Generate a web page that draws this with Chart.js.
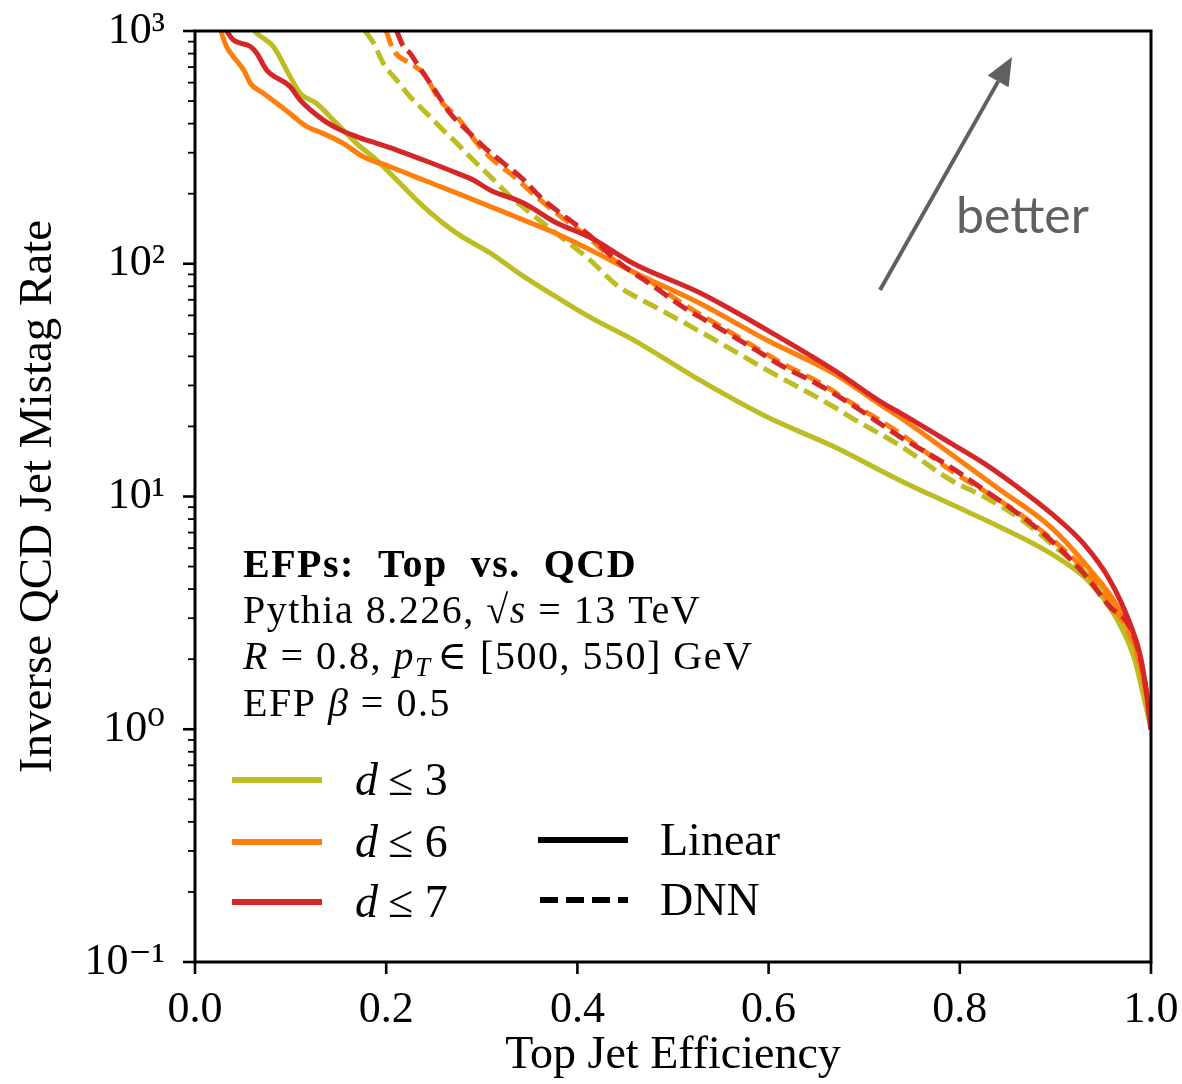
<!DOCTYPE html>
<html>
<head>
<meta charset="utf-8">
<script src="https://cdn.jsdelivr.net/npm/chart.js@4.4.1/dist/chart.umd.min.js"></script>
<style>
  html, body { margin: 0; padding: 0; background: #ffffff; }
  #wrap { width: 1182px; height: 1084px; }
</style>
</head>
<body>
<div id="wrap"><canvas id="c" width="1182" height="1084"></canvas></div>
<script>
// ---------------- DATA ----------------
const xTickValues = [0.0, 0.2, 0.4, 0.6, 0.8, 1.0];
const xTickLabels = ["0.0", "0.2", "0.4", "0.6", "0.8", "1.0"];
const yTickValues = [0.1, 1, 10, 100, 1000];
const yTickLabels = ["10\u207B\u00B9", "10\u2070", "10\u00B9", "10\u00B2", "10\u00B3"];

// d <= 3, Linear
const d3LinX = [0.062, 0.0646, 0.082, 0.0994, 0.110, 0.127, 0.148, 0.169, 0.190, 0.211, 0.239, 0.274, 0.309, 0.344, 0.378, 0.413, 0.459, 0.528, 0.598, 0.668, 0.738, 0.790, 0.842, 0.895, 0.937, 0.965, 0.982, 0.994, 1.0];
const d3LinY = [1000, 976, 857, 637, 540, 489, 401, 329, 279, 229, 176, 135, 111, 88, 72, 59, 47, 31.6, 22, 16.4, 11.7, 9.3, 7.4, 5.7, 4.24, 2.94, 2.05, 1.29, 1.0];

// d <= 6, Linear
const d6LinX = [0.027, 0.033, 0.040, 0.051, 0.058, 0.0715, 0.0855, 0.0994, 0.117, 0.134, 0.155, 0.176, 0.204, 0.239, 0.274, 0.309, 0.344, 0.378, 0.413, 0.459, 0.528, 0.598, 0.668, 0.720, 0.738, 0.790, 0.842, 0.895, 0.937, 0.965, 0.985, 0.996, 1.0];
const d6LinY = [1000, 857, 776, 679, 595, 540, 489, 442, 388, 363, 329, 288, 261, 229, 201, 176, 154, 135, 115, 92, 67.6, 47, 33.8, 24.3, 21.8, 15.3, 10.7, 7.4, 4.8, 3.36, 2.19, 1.33, 1.0];

// d <= 7, Linear
const d7LinX = [0.033, 0.040, 0.058, 0.0646, 0.075, 0.0994, 0.110, 0.134, 0.152, 0.169, 0.190, 0.211, 0.239, 0.274, 0.291, 0.309, 0.344, 0.378, 0.413, 0.459, 0.528, 0.598, 0.668, 0.720, 0.738, 0.790, 0.825, 0.860, 0.895, 0.929, 0.957, 0.978, 0.989, 0.996, 1.0];
const d7LinY = [1000, 915, 857, 802, 679, 577, 505, 415, 376, 352, 329, 308, 279, 245, 229, 207, 182, 150, 130, 100, 75, 52, 35, 25.1, 22.8, 17.0, 13.9, 11.0, 8.5, 6.3, 4.37, 2.85, 2.05, 1.38, 1.0];

// d <= 3, DNN
const d3DnnX = [0.178, 0.187, 0.197, 0.211, 0.225, 0.239, 0.256, 0.274, 0.291, 0.309, 0.330, 0.351, 0.378, 0.413, 0.441, 0.476, 0.511, 0.546, 0.598, 0.668, 0.685, 0.738, 0.790, 0.825, 0.860, 0.895, 0.947, 0.975, 0.990, 1.0];
const d3DnnY = [1000, 885, 726, 615, 522, 457, 388, 329, 279, 237, 194, 165, 135, 104, 81, 67, 56, 46.5, 35, 24.3, 22, 16.5, 11.8, 10.0, 8.2, 6.3, 4.0, 2.6, 1.8, 1.0];

// d <= 6, DNN
const d6DnnX = [0.200, 0.2075, 0.225, 0.239, 0.256, 0.274, 0.298, 0.316, 0.330, 0.361, 0.378, 0.413, 0.441, 0.476, 0.511, 0.546, 0.581, 0.616, 0.650, 0.685, 0.738, 0.790, 0.842, 0.877, 0.929, 0.957, 0.982, 0.996, 1.0];
const d6DnnY = [1000, 829, 726, 658, 505, 428, 318, 270, 244, 188, 165, 128, 102, 84, 67, 55, 45, 37, 31.4, 25.5, 18.6, 13.0, 9.6, 7.6, 4.9, 3.5, 2.3, 1.35, 1.0];

// d <= 7, DNN
const d7DnnX = [0.211, 0.218, 0.225, 0.232, 0.239, 0.253, 0.267, 0.284, 0.302, 0.323, 0.344, 0.361, 0.378, 0.413, 0.441, 0.476, 0.511, 0.546, 0.581, 0.616, 0.650, 0.685, 0.738, 0.790, 0.825, 0.860, 0.895, 0.929, 0.957, 0.978, 0.989, 0.996, 1.0];
const d7DnnY = [1000, 857, 802, 726, 658, 540, 442, 376, 318, 270, 229, 194, 170, 132, 103, 82, 65, 53.6, 44, 36, 30.6, 25.1, 18, 13.4, 10.7, 8.5, 6.5, 4.7, 3.36, 2.75, 2.0, 1.38, 1.0];

const seriesNames = ["d \u2264 3", "d \u2264 6", "d \u2264 7"];
const seriesColors = ["#bcbd22", "#ff7f0e", "#d62728"];

// ---------------- CHART ----------------
const SERIF = '"Liberation Serif", "DejaVu Serif", serif';
const toPts = (xs, ys) => xs.map((x, i) => ({ x: x, y: ys[i] }));

function ds(label, xs, ys, color, dashed) {
  return {
    label: label,
    data: toPts(xs, ys),
    borderColor: color,
    backgroundColor: color,
    borderWidth: 5,
    borderDash: dashed ? [16, 7] : [],
    pointRadius: 0,
    cubicInterpolationMode: 'monotone',
    fill: false,
    borderCapStyle: 'butt',
    borderJoinStyle: 'round'
  };
}

const datasets = [
  ds(seriesNames[2] + " Linear", d7LinX, d7LinY, seriesColors[2], false),
  ds(seriesNames[2] + " DNN", d7DnnX, d7DnnY, seriesColors[2], true),
  ds(seriesNames[1] + " Linear", d6LinX, d6LinY, seriesColors[1], false),
  ds(seriesNames[1] + " DNN", d6DnnX, d6DnnY, seriesColors[1], true),
  ds(seriesNames[0] + " Linear", d3LinX, d3LinY, seriesColors[0], false),
  ds(seriesNames[0] + " DNN", d3DnnX, d3DnnY, seriesColors[0], true)
];

function drawRuns(ctx, runs, x, y) {
  runs.forEach(r => {
    ctx.font = r[0];
    const dy = r[2] || 0;
    ctx.fillText(r[1], x, y + dy);
    x += ctx.measureText(r[1]).width + (r[3] || 0);
  });
  return x;
}

const decorPlugin = {
  id: 'decor',
  afterDraw(chart) {
    const ctx = chart.ctx;
    const a = chart.chartArea;
    const xs = chart.scales.x, ys = chart.scales.y;
    ctx.save();
    // frame
    ctx.strokeStyle = '#000';
    ctx.lineWidth = 3;
    ctx.strokeRect(a.left, a.top, a.right - a.left, a.bottom - a.top);
    // x ticks
    ctx.lineWidth = 2.6;
    xTickValues.forEach(v => {
      const px = xs.getPixelForValue(v);
      ctx.beginPath(); ctx.moveTo(px, a.bottom); ctx.lineTo(px, a.bottom + 12); ctx.stroke();
    });
    // y major ticks
    yTickValues.forEach(v => {
      const py = ys.getPixelForValue(v);
      ctx.beginPath(); ctx.moveTo(a.left, py); ctx.lineTo(a.left - 12, py); ctx.stroke();
    });
    // y minor ticks
    ctx.lineWidth = 1.8;
    for (let d = -1; d < 3; d++) {
      for (let m = 2; m <= 9; m++) {
        const py = ys.getPixelForValue(m * Math.pow(10, d));
        ctx.beginPath(); ctx.moveTo(a.left, py); ctx.lineTo(a.left - 7, py); ctx.stroke();
      }
    }

    // annotation text block
    ctx.fillStyle = '#000';
    ctx.textBaseline = 'alphabetic';
    ctx.textAlign = 'left';
    try { ctx.letterSpacing = '1.5px'; } catch (e) {}
    const R = '40px ' + SERIF, I = 'italic 40px ' + SERIF;
    drawRuns(ctx, [['bold 40px ' + SERIF, 'EFPs:  Top  vs.  QCD']], 243, 577);
    drawRuns(ctx, [[R, 'Pythia 8.226, '], [R, '\u221A'], [I, 's', 0, 0], [R, ' = 13 TeV']], 243, 623);
    drawRuns(ctx, [[I, 'R'], [R, ' = 0.8, '], [I, 'p'], ['italic 27px ' + SERIF, 'T', 7, 6], [R, '\u2208 [500, 550] GeV']], 243, 669);
    drawRuns(ctx, [[R, 'EFP '], [I, '\u03B2'], [R, ' = 0.5']], 243, 716);
    try { ctx.letterSpacing = '0px'; } catch (e) {}

    // legend (colours)
    const legY = [780, 842, 902];
    ctx.lineWidth = 6;
    for (let i = 0; i < 3; i++) {
      ctx.strokeStyle = seriesColors[i];
      ctx.setLineDash([]);
      ctx.beginPath(); ctx.moveTo(232, legY[i]); ctx.lineTo(322, legY[i]); ctx.stroke();
      ctx.fillStyle = '#000';
      ctx.textBaseline = 'middle';
      drawRuns(ctx, [['italic 46px ' + SERIF, 'd', 0, 10], ['46px ' + SERIF, '\u2264 ' + seriesNames[i].slice(4)]], 355, legY[i] + 3);
    }
    // legend (styles)
    ctx.strokeStyle = '#000';
    ctx.beginPath(); ctx.moveTo(538, 840); ctx.lineTo(628, 840); ctx.stroke();
    ctx.setLineDash([18, 8]);
    ctx.beginPath(); ctx.moveTo(540, 900); ctx.lineTo(628, 900); ctx.stroke();
    ctx.setLineDash([]);
    ctx.font = '46px ' + SERIF;
    ctx.fillText('Linear', 660, 843);
    ctx.fillText('DNN', 660, 903);

    // "better" arrow
    ctx.strokeStyle = '#606060';
    ctx.fillStyle = '#606060';
    ctx.lineWidth = 4;
    const ax0 = 880, ay0 = 290, ax1 = 1012, ay1 = 57;
    const ang = Math.atan2(ay1 - ay0, ax1 - ax0);
    const hl = 28, hw = 12;
    const bx = ax1 - hl * Math.cos(ang), by = ay1 - hl * Math.sin(ang);
    ctx.beginPath(); ctx.moveTo(ax0, ay0); ctx.lineTo(bx, by); ctx.stroke();
    ctx.beginPath();
    ctx.moveTo(ax1, ay1);
    ctx.lineTo(bx + hw * Math.sin(ang), by - hw * Math.cos(ang));
    ctx.lineTo(bx - hw * Math.sin(ang), by + hw * Math.cos(ang));
    ctx.closePath(); ctx.fill();
    ctx.font = '50px Lato, "Open Sans", sans-serif';
    ctx.textBaseline = 'alphabetic';
    ctx.fillText('better', 956, 233);
    ctx.restore();
  }
};

new Chart(document.getElementById('c'), {
  type: 'line',
  data: { datasets: datasets },
  options: {
    responsive: false,
    animation: false,
    devicePixelRatio: 1,
    layout: { padding: { left: 0, right: 31, top: 31, bottom: 0 } },
    plugins: { legend: { display: false }, tooltip: { enabled: false } },
    scales: {
      x: {
        type: 'linear',
        min: 0, max: 1,
        afterFit: s => { s.height = 122; s.paddingLeft = 0; s.paddingRight = 0; },
        afterBuildTicks: s => { s.ticks = xTickValues.map(v => ({ value: v })); },
        grid: { display: false },
        border: { display: false },
        ticks: {
          padding: 14,
          color: '#000',
          font: { family: SERIF, size: 44 },
          callback: (v) => { const i = xTickValues.findIndex(t => Math.abs(t - v) < 1e-9); return i >= 0 ? xTickLabels[i] : ''; },
          maxRotation: 0, autoSkip: false
        },
        title: { display: true, text: 'Top Jet Efficiency', color: '#000', font: { family: SERIF, size: 46 }, padding: { top: -7, bottom: 0 } }
      },
      y: {
        type: 'logarithmic',
        min: 0.1, max: 1000,
        afterFit: s => { s.width = 195; s.paddingTop = 0; s.paddingBottom = 0; },
        afterBuildTicks: s => { s.ticks = yTickValues.map(v => ({ value: v })); },
        grid: { display: false },
        border: { display: false },
        ticks: {
          padding: 22,
          color: '#000',
          font: { family: SERIF, size: 44 },
          callback: (v) => { const i = yTickValues.findIndex(t => Math.abs(Math.log10(t) - Math.log10(v)) < 1e-6); return i >= 0 ? yTickLabels[i] : ''; },
          autoSkip: false
        },
        title: { display: true, text: 'Inverse QCD Jet Mistag Rate', color: '#000', font: { family: SERIF, size: 47 }, padding: { top: 10, bottom: 0 } }
      }
    }
  },
  plugins: [decorPlugin]
});
</script>
</body>
</html>
